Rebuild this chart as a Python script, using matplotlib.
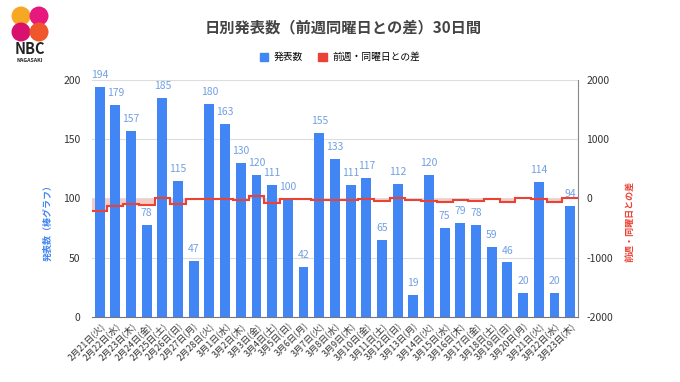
import numpy as np
import matplotlib
matplotlib.use("Agg")
import matplotlib.pyplot as plt
from matplotlib.patches import Patch, Circle

plt.rcParams['font.family'] = ['Noto Sans CJK JP', 'DejaVu Sans']
plt.rcParams['axes.unicode_minus'] = False

# Data
dates = ['2月21日', '2月22日', '2月23日', '2月24日', '2月25日', '2月26日', '2月27日',
         '2月28日', '3月1日', '3月2日', '3月3日', '3月4日', '3月5日', '3月6日',
         '3月7日', '3月8日', '3月9日', '3月10日', '3月11日', '3月12日', '3月13日',
         '3月14日', '3月15日', '3月16日', '3月17日', '3月18日', '3月19日', '3月20日',
         '3月21日', '3月22日', '3月23日']
weekdays = ['火', '水', '木', '金', '土', '日', '月'] * 4 + ['火', '水', '木']
counts = [194, 179, 157, 78, 185, 115, 47, 180, 163, 130, 120, 111, 100, 42,
          155, 133, 111, 117, 65, 112, 19, 120, 75, 79, 78, 59, 46, 20, 114, 20, 94]
diff = [-215, -125, -90, -105, 5, -90, -10, -14, -16, -27, 42, -74, -15, -5,
        -25, -30, -19, -3, -46, 12, -23, -35, -58, -32, -39, -6, -66, 1, -6, -55, 15]

labels = [f'{d}({w})' for d, w in zip(dates, weekdays)]

blue = '#4285f4'
red = '#ea4335'

fig = plt.figure(figsize=(6.8, 3.82), dpi=100)
ax = fig.add_axes([0.135, 0.170, 0.715, 0.621])
ax2 = ax.twinx()
ax3 = ax.twinx()
ax2.set_zorder(0)
ax.set_zorder(1)
ax3.set_zorder(2)
ax.patch.set_visible(False)
ax3.patch.set_visible(False)

x = np.arange(len(counts))
edges = np.arange(len(counts) + 1) - 0.5

# pink area behind the bars
ax2.stairs(diff, edges, baseline=0, fill=True, color='#f6bdb7', alpha=0.8, lw=0)
ax2.set_ylim(-2000, 2000)
ax2.set_yticks([-2000, -1000, 0, 1000, 2000])
ax2.tick_params(axis='y', length=0, labelsize=7.5, colors='#333333', pad=6)
for s in ['top', 'left', 'bottom']:
    ax2.spines[s].set_visible(False)
ax2.spines['right'].set_color('#888888')
ax2.set_ylabel('前週・同曜日との差', color=red, fontsize=6.5, rotation=90, fontweight='bold')
ax2.yaxis.set_label_coords(1.097, 0.405)

# bars
bars = ax.bar(x, counts, width=0.63, color=blue, zorder=2)
for xi, c in zip(x, counts):
    ax.annotate(str(c), (xi, c), xytext=(0, 5), textcoords='offset points',
                ha='center', va='bottom', fontsize=7.5, color='#72a0e2')
ax.set_ylim(0, 200)
ax.set_xlim(-0.5, len(counts) - 0.5)
ax.set_yticks([0, 50, 100, 150, 200])
ax.yaxis.grid(True, color='#dddddd', lw=0.8)
ax.set_axisbelow(True)
ax.tick_params(axis='y', length=0, labelsize=7.5, colors='#333333', pad=8)
ax.set_xticks(x)
ax.set_xticklabels(labels, rotation=45, ha='right', rotation_mode='anchor',
                   fontsize=6.5, color='#333333')
ax.tick_params(axis='x', length=0, pad=3)
for s in ['top', 'left', 'right']:
    ax.spines[s].set_visible(False)
ax.spines['bottom'].set_color('#777777')
ax.set_ylabel('発表数（棒グラフ）', color=blue, fontsize=6.5, fontweight='bold')
ax.yaxis.set_label_coords(-0.08, 0.405)

# red step line on top
ax3.stairs(diff, edges, baseline=None, color=red, lw=1.5)
ax3.set_ylim(-2000, 2000)
ax3.axis('off')

# title and legend
fig.text(0.505, 0.928, '日別発表数（前週同曜日との差）30日間', ha='center', va='center',
         fontsize=11, color='#444444', fontweight='bold')
handles = [Patch(color=blue, label='発表数'), Patch(color=red, label='前週・同曜日との差')]
fig.legend(handles=handles, loc='center', bbox_to_anchor=(0.5, 0.851), ncol=2,
           frameon=False, fontsize=7, handlelength=0.9, handleheight=0.9,
           columnspacing=1.5, handletextpad=0.6)

# logo
lax = fig.add_axes([10 / 680, 1 - 42 / 382, 40 / 680, 36 / 382])
lax.set_xlim(0, 40)
lax.set_ylim(0, 36)
lax.set_aspect('equal')
lax.axis('off')
for cx, cy, col in [(11, 26, '#f7a823'), (29, 26, '#e8197c'), (11, 10, '#d8106e'), (29, 10, '#f0562c')]:
    lax.add_patch(Circle((cx, cy), 9.5, color=col, lw=0))
fig.text(30 / 680, 1 - 49 / 382, 'NBC', ha='center', va='center', fontsize=10.5,
         color='#222222', fontweight='bold')
fig.text(30 / 680, 1 - 60 / 382, 'NAGASAKI', ha='center', va='center', fontsize=3.8,
         color='#222222', fontweight='bold')

fig.savefig('out.png', dpi=100)
